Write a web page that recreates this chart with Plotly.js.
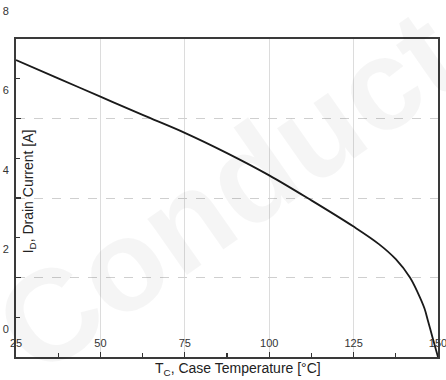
<!DOCTYPE html>
<html>
<head>
<meta charset="utf-8">
<script src="https://cdn.plot.ly/plotly-3.0.1.min.js"></script>
<style>html,body{margin:0;padding:0;background:#fff;}#chart{width:446px;height:380px;}</style>
</head>
<body>
<div id="chart"></div>
<script>
// Case temperature (°C)
const temperature = [25, 37.5, 50, 62.5, 75, 87.5, 100, 112.5, 125, 132.5, 137.5, 141.7, 144, 146, 147, 148, 149, 150];
// Drain current (A)
const drainCurrent = [7.47, 7.01, 6.55, 6.09, 5.64, 5.13, 4.57, 3.94, 3.28, 2.84, 2.46, 2.0, 1.62, 1.22, 0.92, 0.61, 0.3, 0];
const xTicks = [25, 50, 75, 100, 125, 150];
const yTicks = [0, 2, 4, 6, 8];

const trace = {
  x: temperature, y: drainCurrent, type: 'scatter', mode: 'lines',
  line: {color: '#1a1a1a', width: 1.8, shape: 'spline', smoothing: 1},
  hoverinfo: 'skip'
};

const fam = 'Liberation Sans, Arial, sans-serif';

const layout = {
  width: 446, height: 380,
  margin: {l: 16, r: 8, t: 39, b: 23},
  paper_bgcolor: '#fff', plot_bgcolor: 'rgba(0,0,0,0)',
  showlegend: false,
  font: {family: fam, color: '#333', size: 11},
  xaxis: {
    range: [25, 150], tickvals: xTicks, ticktext: xTicks.map(String),
    ticks: 'inside', ticklen: 5, tickcolor: '#333', tickwidth: 1.2,
    ticklabelposition: 'inside', ticklabelstandoff: 2, ticklabeloverflow: 'allow',
    showgrid: true, gridcolor: '#dcdcdc', gridwidth: 1,
    showline: true, mirror: true, linecolor: '#3a3a3a', linewidth: 2,
    zeroline: false,
    minor: {dtick: 12.5, tick0: 25, ticks: 'inside', ticklen: 4, tickcolor: '#333', showgrid: false},
    tickfont: {size: 11, color: '#333', family: fam}
  },
  yaxis: {
    range: [0, 8], tickvals: yTicks, ticktext: yTicks.map(String),
    ticks: 'inside', ticklen: 5, tickcolor: '#333', tickwidth: 1.2,
    ticklabelshift: -28, ticklabelstandoff: 3, ticklabeloverflow: 'allow',
    showgrid: true, gridcolor: '#cfcfcf', gridwidth: 1, griddash: 'dash',
    showline: true, mirror: true, linecolor: '#3a3a3a', linewidth: 2,
    zeroline: false,
    minor: {dtick: 1, tick0: 0, ticks: 'inside', ticklen: 4, tickcolor: '#333', showgrid: false},
    tickfont: {size: 11, color: '#333', family: fam}
  },
  annotations: [
    {text: 'Conduct', xref: 'paper', yref: 'paper', x: 0.5, y: 0.52, showarrow: false,
     textangle: -35, font: {size: 130, family: fam, color: 'rgba(0,0,0,0.04)', weight: 'bold'}},
    {text: 'I<sub>D</sub>, Drain Current [A]', xref: 'paper', yref: 'paper', x: 0.004, y: 0.52,
     xanchor: 'left', yanchor: 'middle', showarrow: false, textangle: -90,
     font: {size: 14, color: '#222', family: fam}},
    {text: 'T<sub>C</sub>, Case Temperature [°C]', xref: 'paper', yref: 'paper', x: 0.525, y: -0.038,
     xanchor: 'center', yanchor: 'middle', showarrow: false,
     font: {size: 14, color: '#222', family: fam}}
  ]
};

Plotly.newPlot('chart', [trace], layout, {staticPlot: true, displayModeBar: false});
</script>
</body>
</html>
